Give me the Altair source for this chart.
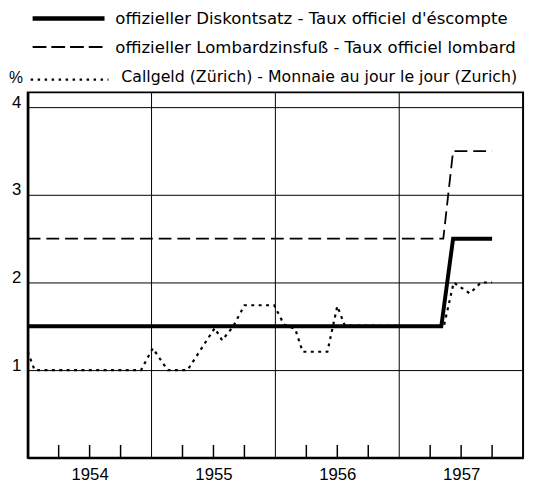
import altair as alt
import pandas as pd

# ---------------- data ----------------
disk_year = [1954.0, 1957.34, 1957.435, 1957.75]
disk_rate = [1.5, 1.5, 2.5, 2.5]

lomb_year = [1954.0, 1957.356, 1957.435, 1957.75]
lomb_rate = [2.5, 2.5, 3.5, 3.5]

call_year = [1954.0, 1954.056, 1954.915, 1955.01, 1955.13, 1955.29, 1955.51, 1955.57,
             1955.66, 1955.75, 1955.99, 1956.07, 1956.16, 1956.22, 1956.42, 1956.50,
             1956.56, 1957.36, 1957.44, 1957.57, 1957.66, 1957.75]
call_rate = [1.21, 1.0, 1.0, 1.25, 1.0, 1.0, 1.48, 1.34,
             1.5, 1.74, 1.74, 1.52, 1.47, 1.21, 1.21, 1.73,
             1.51, 1.5, 2.0, 1.875, 2.0, 2.0]

year_lines = [1955, 1956, 1957]
quarter_ticks = [1954.25, 1954.5, 1954.75, 1955.25, 1955.5, 1955.75,
                 1956.25, 1956.5, 1956.75, 1957.25, 1957.5, 1957.75]
year_label_pos = [1954.5, 1955.5, 1956.5, 1957.5]
y_ticks = [1, 2, 3, 4]

legend_labels = [
    "offizieller Diskontsatz - Taux officiel d'éscompte",
    "offizieller Lombardzinsfuß - Taux officiel lombard",
    "Callgeld (Zürich) - Monnaie au jour le jour (Zurich)",
]
unit_label = "%"

# ---------------- chart ----------------
W, H = 503, 371
YMAX = 4.17
FONT = "Liberation Sans"
LFONT = "DejaVu Sans"

xscale = alt.Scale(domain=[1954, 1958], nice=False, zero=False)
yscale = alt.Scale(domain=[0, YMAX], nice=False, zero=False)

df_disk = pd.DataFrame({"year": disk_year, "rate": disk_rate})
df_lomb = pd.DataFrame({"year": lomb_year, "rate": lomb_rate})
df_call = pd.DataFrame({"year": call_year, "rate": call_rate})

x_axis = alt.Axis(values=year_label_pos, labelExpr="floor(datum.value) + ''",
                  ticks=False, grid=False, domain=True, domainColor="black",
                  domainWidth=2, labelFont=FONT, labelFontSize=17, labelColor="black",
                  labelPadding=9, labelFlush=False, title=None)
y_axis = alt.Axis(values=y_ticks, grid=True, gridColor="black", gridWidth=1,
                  gridOpacity=1, ticks=False, domain=True, domainColor="black",
                  domainWidth=2.5, labelFont=FONT, labelFontSize=17, labelColor="black",
                  labelPadding=7, labelBaseline="alphabetic", labelFlush=False,
                  title=None)

X = lambda f: alt.X(f, scale=xscale, axis=x_axis)
Y = lambda f: alt.Y(f, scale=yscale, axis=y_axis)

disk = alt.Chart(df_disk).mark_line(color="black", strokeWidth=4, strokeJoin="miter").encode(
    x=X("year:Q"), y=Y("rate:Q"))
lomb = alt.Chart(df_lomb).mark_line(color="black", strokeWidth=1.8, strokeDash=[13, 6]).encode(
    x=X("year:Q"), y=Y("rate:Q"))
call = alt.Chart(df_call).mark_line(color="black", strokeWidth=2.2, strokeDash=[3, 4.5]).encode(
    x=X("year:Q"), y=Y("rate:Q"))

vgrid = alt.Chart(pd.DataFrame({"year": year_lines})).mark_rule(color="black", strokeWidth=1).encode(
    x=X("year:Q"), y=alt.value(0), y2=alt.value(H))
qticks = alt.Chart(pd.DataFrame({"year": quarter_ticks})).mark_rule(color="black", strokeWidth=1.5).encode(
    x=X("year:Q"), y=alt.value(H), y2=alt.value(H - 13))

# legend (drawn above the plot area)
leg1_line = alt.Chart().mark_rule(color="black", strokeWidth=4.5).encode(
    x=alt.value(5), x2=alt.value(78), y=alt.value(-75))
leg2_line = alt.Chart().mark_rule(color="black", strokeWidth=2, strokeDash=[14, 5]).encode(
    x=alt.value(5), x2=alt.value(78), y=alt.value(-46))
leg3_line = alt.Chart().mark_rule(color="black", strokeWidth=2.2, strokeDash=[2.5, 4.6]).encode(
    x=alt.value(3), x2=alt.value(82), y=alt.value(-13))

def leg_text(txt, x, y, size, font=LFONT):
    return alt.Chart().mark_text(text=txt, align="left", baseline="middle", font=font,
                                 fontSize=size, color="black").encode(
        x=alt.value(x), y=alt.value(y))

leg1_text = leg_text(legend_labels[0], 89, -74, 16.8)
leg2_text = leg_text(legend_labels[1], 89, -45, 16.8)
leg3_text = leg_text(legend_labels[2], 95, -16, 16.0)
unit_text = leg_text(unit_label, -19, -15, 16, font=FONT)

chart = alt.layer(
    disk, lomb, call, vgrid, qticks,
    leg1_line, leg2_line, leg3_line, leg1_text, leg2_text, leg3_text, unit_text,
).properties(
    width=W, height=H,
    autosize=alt.AutoSizeParams(type="none"),
    padding={"left": 20, "top": 82, "right": 4, "bottom": 24},
).configure_view(stroke="black", strokeWidth=2)

chart.save("out.html", embed_options={"renderer": "svg", "actions": False})
